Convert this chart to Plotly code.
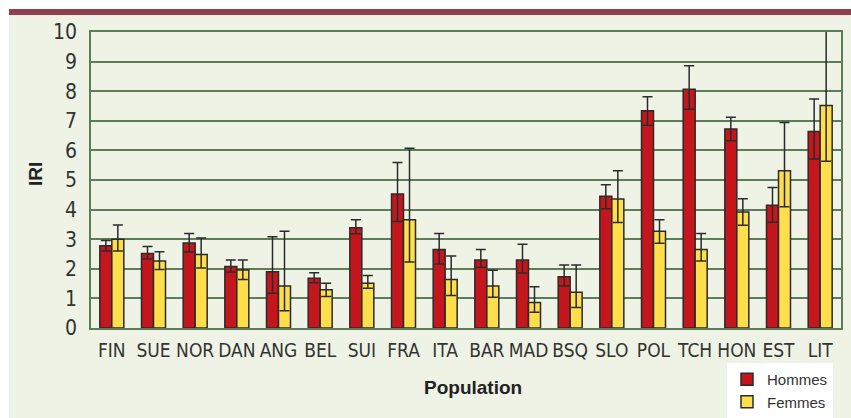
import plotly.graph_objects as go

categories = ["FIN", "SUE", "NOR", "DAN", "ANG", "BEL", "SUI", "FRA", "ITA", "BAR",
              "MAD", "BSQ", "SLO", "POL", "TCH", "HON", "EST", "LIT"]

hommes = [2.78, 2.52, 2.87, 2.08, 1.90, 1.68, 3.39, 4.53, 2.65, 2.30, 2.30, 1.73,
          4.45, 7.34, 8.07, 6.72, 4.15, 6.64]
hommes_hi = [2.96, 2.75, 3.19, 2.30, 3.08, 1.87, 3.66, 5.59, 3.19, 2.65, 2.83, 2.13,
             4.84, 7.81, 8.86, 7.12, 4.75, 7.74]
hommes_lo = [2.60, 2.33, 2.57, 1.89, 1.17, 1.53, 3.18, 3.60, 2.16, 2.05, 1.86, 1.42,
             4.03, 6.85, 7.39, 6.33, 3.57, 5.71]

femmes = [3.00, 2.26, 2.48, 1.96, 1.42, 1.29, 1.51, 3.66, 1.64, 1.42, 0.86, 1.21,
          4.36, 3.27, 2.65, 3.92, 5.31, 7.52]
femmes_hi = [3.48, 2.58, 3.04, 2.30, 3.27, 1.51, 1.77, 6.07, 2.43, 1.95, 1.39, 2.13,
             5.31, 3.66, 3.19, 4.37, 6.94, 10.06]
femmes_lo = [2.60, 1.98, 2.03, 1.64, 0.58, 1.06, 1.34, 2.23, 1.10, 1.04, 0.53, 0.69,
             3.56, 2.86, 2.26, 3.47, 4.10, 5.63]

yticks = list(range(0, 11))

# plot area geometry (px)
W, H = 851, 418
L, R, T, B = 91, 10, 32, 90
PW, PH = W - L - R, H - T - B

def fx(px):
    return (px - L) / PW

def fy(py):
    return 1 - (py - T) / PH

RED = "#C5161D"
YEL = "#FFDE4C"
BG = "#EEF3E5"
GRID = "#5F7C5A"
EDGE = "#2B2B2B"
TXT = "#333333"

fig = go.Figure()
fig.add_trace(go.Bar(
    name="Hommes", x=categories, y=hommes,
    marker=dict(color=RED, line=dict(color=EDGE, width=1.5)),
    error_y=dict(type="data", symmetric=False,
                 array=[h - v for h, v in zip(hommes_hi, hommes)],
                 arrayminus=[v - l for l, v in zip(hommes_lo, hommes)],
                 color=EDGE, thickness=1.5, width=5),
))
fig.add_trace(go.Bar(
    name="Femmes", x=categories, y=femmes,
    marker=dict(color=YEL, line=dict(color=EDGE, width=1.5)),
    error_y=dict(type="data", symmetric=False,
                 array=[h - v for h, v in zip(femmes_hi, femmes)],
                 arrayminus=[v - l for l, v in zip(femmes_lo, femmes)],
                 color=EDGE, thickness=1.5, width=5),
))

tickfont = dict(family="Liberation Sans Narrow, DejaVu Sans Condensed, sans-serif",
                size=21, color=TXT)

fig.update_layout(
    width=W, height=H,
    margin=dict(l=L, r=R, t=T, b=B, autoexpand=False),
    paper_bgcolor=BG, plot_bgcolor=BG,
    barmode="group", bargap=0.424, bargroupgap=0,
    showlegend=True,
    legend=dict(x=fx(727), y=fy(418), xanchor="left", yanchor="bottom",
                bgcolor="white", borderwidth=0,
                font=dict(family="Liberation Sans, sans-serif", size=15, color=TXT),
                itemwidth=30, tracegroupgap=0),
    xaxis=dict(showline=True, linecolor=GRID, linewidth=1.5, mirror=True,
               showgrid=False, ticks="", tickfont=dict(tickfont, size=19),
               ticklabelstandoff=4, fixedrange=True),
    yaxis=dict(range=[0, 10], tickvals=yticks, showline=True, linecolor=GRID,
               linewidth=1.5, mirror=True, showgrid=True, gridcolor=GRID,
               gridwidth=1.5, zeroline=False, ticks="", tickfont=tickfont,
               ticklabelstandoff=8, fixedrange=True),
    shapes=[
        dict(type="rect", xref="paper", yref="paper", x0=fx(0), x1=fx(W),
             y0=fy(9), y1=fy(0), fillcolor="white", line=dict(width=0), layer="below"),
        dict(type="rect", xref="paper", yref="paper", x0=fx(0), x1=fx(9),
             y0=fy(H), y1=fy(0), fillcolor="white", line=dict(width=0), layer="below"),
        dict(type="rect", xref="paper", yref="paper", x0=fx(9), x1=fx(W),
             y0=fy(15), y1=fy(9), fillcolor="#923E4B", line=dict(width=0), layer="below"),
    ],
    annotations=[
        dict(text="<b>Population</b>", xref="paper", yref="paper",
             x=fx(473), y=fy(387), xanchor="center", yanchor="middle", showarrow=False,
             font=dict(family="Liberation Sans, sans-serif", size=19, color="#222")),
        dict(text="<b>IRI</b>", xref="paper", yref="paper", textangle=-90,
             x=fx(35), y=fy(174), xanchor="center", yanchor="middle", showarrow=False,
             font=dict(family="Liberation Sans, sans-serif", size=19, color="#222")),
    ],
)

fig.write_html("out.html", config={"displayModeBar": False},
               post_script="document.body.style.margin='0px';document.body.style.overflow='hidden';")
